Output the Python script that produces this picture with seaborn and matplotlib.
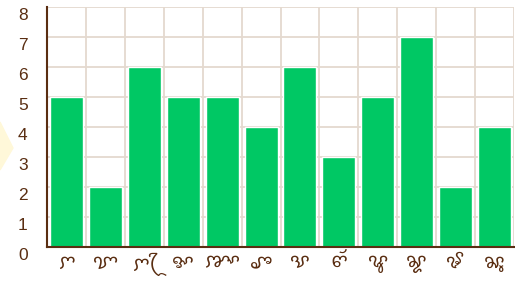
import numpy as np
import matplotlib
matplotlib.use("Agg")
import matplotlib.pyplot as plt
import matplotlib.transforms as mtransforms
from matplotlib import font_manager
from matplotlib.patches import Polygon
from fontTools.ttLib import TTFont
import seaborn as sns
import pandas as pd

# chart data (Cham script category labels)
labels = ["ꨆ", "ꨢ", "ꨆꨴ", "ꨀ", "ꨇꨳ", "ꨨ", "ꨕ", "ꨓꨮ", "ꨥ", "ꨘ", "ꨃ", "ꨗꨶ"]
values = [5, 2, 6, 5, 5, 4, 6, 3, 5, 7, 2, 4]
y_ticks = [0, 1, 2, 3, 4, 5, 6, 7, 8]

bar_color = "#00c864"
grid_color = "#e4d9cf"
brown = "#5a2e12"


def find_font(cp):
    # locate an installed font that has the Cham glyphs
    for p in font_manager.findSystemFonts():
        if "unifont" in p:
            continue
        try:
            if cp in (TTFont(p, fontNumber=0, lazy=True).getBestCmap() or {}):
                return p
        except Exception:
            pass


cham_path = find_font(0xAA06)
cham_family = "Noto Sans Cham"
if cham_path:
    font_manager.fontManager.addfont(cham_path)
    cham_family = font_manager.FontProperties(fname=cham_path).get_name()

sns.set_theme(style="white")
plt.rcParams['font.family'] = ['Liberation Sans', 'DejaVu Sans']

df = pd.DataFrame({"label": labels, "value": values})

fig = plt.figure(figsize=(5.15, 2.86), dpi=100)

# faint decorative arrow at the left edge
fig.patches.append(Polygon([[0, 1 - 122 / 286], [13 / 515, 1 - 148 / 286], [0, 1 - 170 / 286]],
                           closed=True, transform=fig.transFigure, color="#fff8d9", zorder=0))

ax = fig.add_axes([47 / 515, 1 - 247 / 286, 1 - 47 / 515 - 1 / 515, 240 / 286])
ax.patch.set_alpha(0)

sns.barplot(data=df, x="label", y="value", order=labels, color=bar_color,
            saturation=1, width=0.85, ax=ax, zorder=3)

ax.set_xlim(-0.5, len(labels) - 0.5)
ax.set_ylim(0, 8)
ax.set_yticks(y_ticks)
ax.set_xticks(np.arange(len(labels)))
ax.set_xticklabels(labels, family=[cham_family, 'DejaVu Sans'])
ax.set_xticks(np.arange(len(labels)) + 0.5, minor=True)

# grid: horizontal at integers, vertical at category boundaries
ax.grid(False)
for y in y_ticks:
    ax.axhline(y, color=grid_color, lw=1.3, zorder=1)
ax.grid(True, which="minor", axis="x", color=grid_color, lw=1.3, zorder=1)

ax.set_xlabel("")
ax.set_ylabel("")
for s in ["top", "right"]:
    ax.spines[s].set_visible(False)
for s in ["left", "bottom"]:
    ax.spines[s].set_color(brown)
    ax.spines[s].set_linewidth(1.5)
    ax.spines[s].set_zorder(4)

ax.tick_params(axis="y", which="major", length=0, pad=14, labelsize=12.5, labelcolor=brown)
ax.tick_params(axis="x", which="major", length=0, pad=4, labelsize=14, labelcolor=brown)
ax.tick_params(axis="x", which="minor", length=0)

# y tick labels sit a few pixels below their gridlines in the reference
offset = mtransforms.ScaledTranslation(0, -7 / 100, fig.dpi_scale_trans)
for lab in ax.get_yticklabels():
    lab.set_transform(lab.get_transform() + offset)

fig.savefig("out.png", dpi=100)
